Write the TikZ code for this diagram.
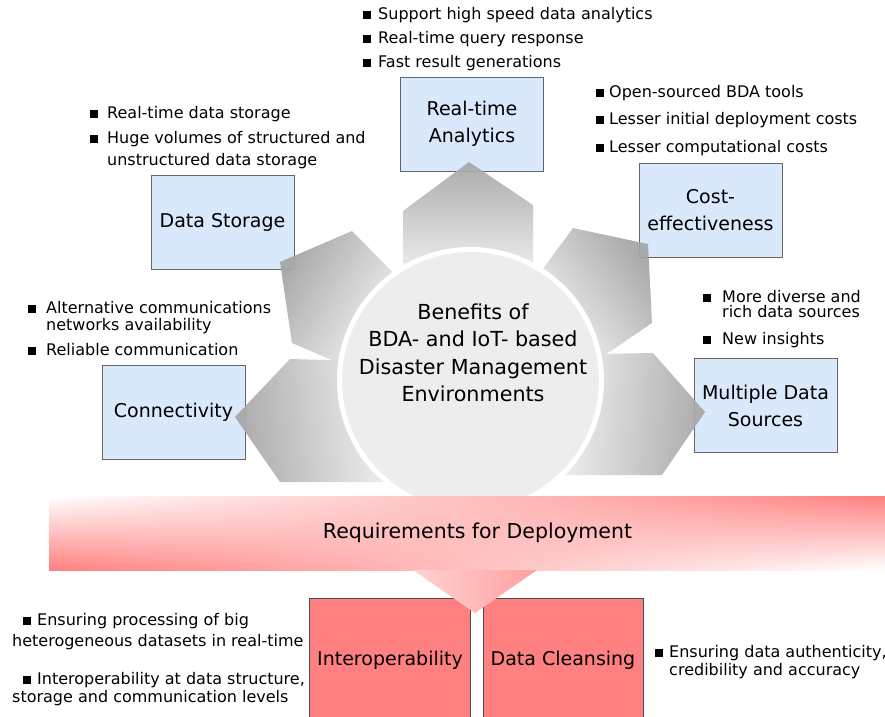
\documentclass[tikz,border=0pt]{standalone}
\usepackage{fontspec}
\setmainfont{DejaVu Sans}
\usetikzlibrary{positioning,shadings}

\definecolor{boxblue}{RGB}{218,232,252}
\definecolor{boxred}{RGB}{255,128,128}
\definecolor{petalgray}{RGB}{165,165,165}

\tikzset{
  benefit/.style={draw=black!60, fill=boxblue, minimum width=143pt, minimum height=94pt,
    align=center, inner sep=0pt, font=\fontsize{19}{27}\selectfont},
  need/.style={draw=black!70, fill=boxred, minimum width=161pt, minimum height=124pt,
    align=center, inner sep=0pt, font=\fontsize{19}{27}\selectfont},
  sq/.style={fill=black, minimum size=8pt, inner sep=0pt},
  pt/.style={anchor=base west, inner sep=0pt, font=\fontsize{16}{18}\selectfont},
  petal/.style={top color=petalgray, bottom color=white, fill opacity=.93},
}

\begin{document}
\begin{tikzpicture}[x=1pt,y=-1pt]
\useasboundingbox (0,0) rectangle (885,716);

% benefit boxes
\node[benefit] (rta)  at (472,124)   {Real-time\\Analytics};
\node[benefit] (ds)   at (222.5,222) {Data Storage};
\node[benefit] (cost) at (710.5,210.5) {Cost-\\effectiveness};
\node[benefit] (conn) at (173.5,412.5) {Connectivity};
\node[benefit] (mds)  at (765.5,405.5) {Multiple Data\\Sources};

% petals of the gear
\shade[petal] (403,300) -- (403,211) -- (469,162) -- (533,205) -- (533,300) -- cycle;
\shade[petal, shading angle=58] (420,300) -- (352,231) -- (280,262) -- (292,343) -- (360,372) -- cycle;
\shade[petal, shading angle=-52] (520,300) -- (573,228) -- (648,244) -- (652,323) -- (580,372) -- cycle;
\shade[petal, shading angle=96] (400,362) -- (290,359) -- (235,417) -- (280,482) -- (420,482) -- cycle;
\shade[petal, shading angle=-95] (540,355) -- (653,353) -- (705,412) -- (662,475) -- (530,475) -- cycle;

% hub
\node[circle, fill=gray!14, draw=white, line width=5pt, minimum size=262pt] (hub) at (470.5,380.5) {};
\node[align=center, font=\fontsize{20.7}{27.5}\selectfont] (hubtxt) at (473,353)
  {Benefits of\\BDA- and IoT- based\\Disaster Management\\Environments};

% requirements
\node[need] (inter) at (390,660) {Interoperability};
\node[need, minimum width=160pt] (clean) at (563,660) {Data Cleansing};
\shade[upper left=white, upper right=boxred, lower left=boxred, lower right=white]
  (49,496) rectangle (885,570);
\node[font=\fontsize{20.5}{24}\selectfont] (req) at (477.5,533) {Requirements for Deployment};
\shade[left color=boxred!35, right color=boxred!75] (413,570) -- (537,570) -- (475,613) -- cycle;

% bullet lists
\node[sq] (a1) at (367,14.5) {};
\node[pt] (a1t) at (378,19) {Support high speed data analytics};
\node[sq] (a2) at (367,38.5) {};
\node[pt] (a2t) at (378,43) {Real-time query response};
\node[sq] (a3) at (367,62.5) {};
\node[pt] (a3t) at (378,67) {Fast result generations};

\node[sq] (s1) at (94,113.5) {};
\node[pt] (s1t) at (107,118) {Real-time data storage};
\node[sq] (s2) at (94,138.5) {};
\node[pt] (s2t) at (107,143) {Huge volumes of structured and};
\node[pt] (s2u) at (107,165) {unstructured data storage};

\node[sq] (c1) at (600,92.5) {};
\node[pt] (c1t) at (609,97) {Open-sourced BDA tools};
\node[sq] (c2) at (600,119.5) {};
\node[pt] (c2t) at (609,124) {Lesser initial deployment costs};
\node[sq] (c3) at (600,147.5) {};
\node[pt] (c3t) at (609,152) {Lesser computational costs};

\node[sq] (n1) at (32,308.5) {};
\node[pt] (n1t) at (46,313) {Alternative communications};
\node[pt] (n1u) at (46,330) {networks availability};
\node[sq] (n2) at (32,350.5) {};
\node[pt] (n2t) at (46,355) {Reliable communication};

\node[sq] (m1) at (707,297.5) {};
\node[pt] (m1t) at (722,302) {More diverse and};
\node[pt] (m1u) at (722,317) {rich data sources};
\node[sq] (m2) at (707,339.5) {};
\node[pt] (m2t) at (722,344) {New insights};

\node[sq] (i1) at (27,620.5) {};
\node[pt] (i1t) at (37,625) {Ensuring processing of big};
\node[pt] (i1u) at (12,646) {heterogeneous datasets in real-time};
\node[sq] (i2) at (27,679.5) {};
\node[pt] (i2t) at (37,684) {Interoperability at data structure,};
\node[pt] (i2u) at (12,702) {storage and communication levels};

\node[sq] (d1) at (659,652.5) {};
\node[pt] (d1t) at (669,657) {Ensuring data authenticity,};
\node[pt] (d1u) at (669,675) {credibility and accuracy};
\end{tikzpicture}
\end{document}
